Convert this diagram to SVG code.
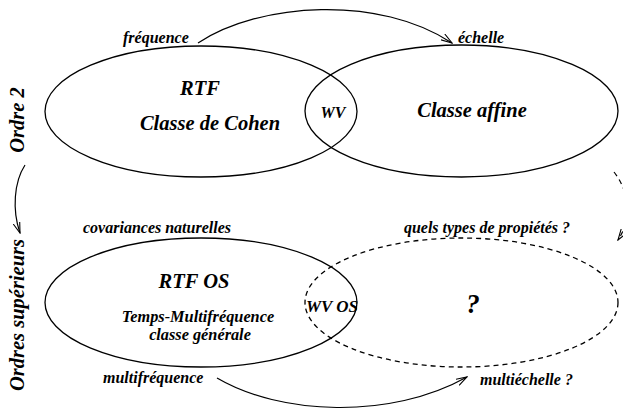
<svg xmlns="http://www.w3.org/2000/svg" width="623" height="415" viewBox="0 0 623 415">
<defs>
<style>
text{font-family:"Liberation Serif","Times New Roman",serif;font-weight:bold;font-style:italic;fill:#000}
.s{font-size:16px}
.m{font-size:16.3px}
.l{font-size:20.5px}
.c{text-anchor:middle}
.e{fill:none;stroke:#000;stroke-width:1.3}
.d{stroke-dasharray:5,4}
.a{fill:none;stroke:#000;stroke-width:1.2}
</style>
<marker id="ah" viewBox="0 0 12 8" refX="11" refY="4" markerWidth="12" markerHeight="8" markerUnits="userSpaceOnUse" orient="auto">
<path d="M0,0.5 L11,4 L0,7.5" fill="none" stroke="#000" stroke-width="1.1"/>
</marker>
</defs>
<rect width="623" height="415" fill="#fff"/>
<g id="rtf">
<ellipse class="e" cx="201" cy="111.5" rx="156" ry="65.5"/>
<text class="l c" x="200" y="95">RTF</text>
<text class="l c" x="210" y="130">Classe de Cohen</text>
</g>
<g id="affine">
<ellipse class="e" cx="461.5" cy="111" rx="156.5" ry="66"/>
<text class="l c" x="472" y="117">Classe affine</text>
</g>
<g id="wv">
<text class="s c" x="333" y="118">WV</text>
</g>
<g id="rtfos">
<ellipse class="e" cx="201" cy="302.5" rx="156" ry="64.5"/>
<text class="l c" x="194" y="288">RTF OS</text>
<text class="m c" x="198" y="322">Temps-Multifréquence</text>
<text class="m c" x="200" y="340">classe générale</text>
</g>
<g id="unknown">
<ellipse class="e d" cx="461.5" cy="302.5" rx="156.5" ry="64.5"/>
<text class="c" style="font-size:27px" x="473" y="313">?</text>
</g>
<g id="wvos">
<text class="c" style="font-size:17px" x="332" y="312">WV OS</text>
</g>
<g id="labels">
<text class="s" x="123" y="43">fréquence</text>
<text class="s" x="458" y="43">échelle</text>
<text class="s" x="83" y="233">covariances naturelles</text>
<text class="s c" x="487" y="233">quels types de propiétés ?</text>
<text class="s" x="103" y="383">multifréquence</text>
<text class="s" x="480" y="385">multiéchelle ?</text>
<text class="l c" transform="translate(24,120) rotate(-90)">Ordre 2</text>
<text class="l c" transform="translate(24,315) rotate(-90)">Ordres supérieurs</text>
</g>
<g id="connectors">
<path class="a" marker-end="url(#ah)" d="M198,43 C260,2 380,-5 452,43"/>
<path class="a" marker-end="url(#ah)" d="M217,378 C280,415 390,420 467,377"/>
<path class="a" marker-end="url(#ah)" d="M25,165 C14,182 12,210 20,233"/>
<path class="a d" marker-end="url(#ah)" d="M614,172 C632,195 630,222 618,240"/>
</g>
</svg>
